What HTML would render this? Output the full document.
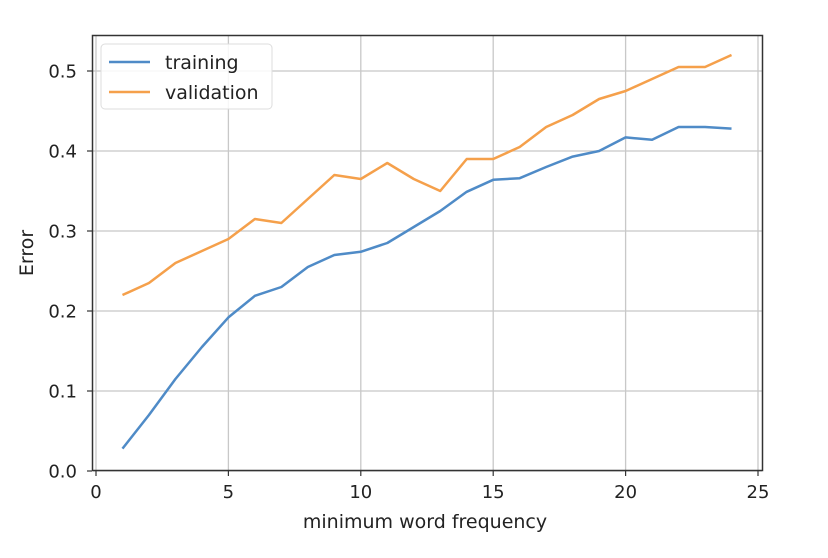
<!DOCTYPE html>
<html><head><meta charset="utf-8"><style>
body{margin:0;background:#fff;}
svg{display:block;font-family:"DejaVu Sans","Liberation Sans",sans-serif;}
</style></head><body>
<svg id="chart" width="828" height="558">
<g id="grid"></g>
<g id="ticks"></g>
<g id="lines"></g>
<rect x="92.5" y="35.5" width="670" height="435" fill="none" stroke="#333" stroke-width="1.5"/>
<text x="425" y="528" font-size="19" text-anchor="middle" fill="#222">minimum word frequency</text>
<text x="0" y="0" font-size="19" text-anchor="middle" fill="#222" transform="translate(33,253) rotate(-90)">Error</text>
<g>
<rect x="101" y="44" width="171" height="65" rx="4" fill="#fff" fill-opacity="0.85" stroke="#ddd"/>
<line x1="109" y1="62" x2="150" y2="62" stroke="#4f8bc7" stroke-width="2.5"/>
<text x="165" y="69" font-size="19" fill="#222">training</text>
<line x1="109" y1="92" x2="150" y2="92" stroke="#f5a04b" stroke-width="2.5"/>
<text x="165" y="99" font-size="19" fill="#222">validation</text>
</g>
</svg>
<script>
const xs=[1,2,3,4,5,6,7,8,9,10,11,12,13,14,15,16,17,18,19,20,21,22,23,24];
const training=[0.028,0.07,0.115,0.155,0.192,0.219,0.23,0.255,0.27,0.274,0.285,0.305,0.325,0.349,0.364,0.366,0.38,0.393,0.4,0.417,0.414,0.43,0.43,0.428];
const validation=[0.22,0.235,0.26,0.275,0.29,0.315,0.31,0.34,0.37,0.365,0.385,0.365,0.35,0.39,0.39,0.405,0.43,0.445,0.465,0.475,0.49,0.505,0.505,0.52];
const xTicks=[0,5,10,15,20,25];
const yTicks=[0.0,0.1,0.2,0.3,0.4,0.5];
const NS="http://www.w3.org/2000/svg";
function X(v){return 96+v*(758-96)/25;}
function Y(v){return 471-v*800;}
function mk(t,a,p){const e=document.createElementNS(NS,t);for(const k in a)e.setAttribute(k,a[k]);p.appendChild(e);return e;}
const g=document.getElementById('grid'),tk=document.getElementById('ticks'),ln=document.getElementById('lines');
xTicks.forEach(v=>{
 const l=mk('line',{x1:X(v),x2:X(v),y1:35,y2:470,stroke:'#c8c8c8','stroke-width':1.3},g);
 
 
 const t=mk('line',{x1:X(v),x2:X(v),y1:471,y2:476,stroke:'#333','stroke-width':1.2},tk);
 
 
 const s=mk('text',{x:X(v),y:498,'font-size':18,'text-anchor':'middle',fill:'#222'},tk);
 s.textContent=String(v);
 
 
});
yTicks.forEach(v=>{
 const l=mk('line',{x1:93,x2:762,y1:Y(v),y2:Y(v),stroke:'#c8c8c8','stroke-width':1.3},g);
 
 
 const t=mk('line',{x1:87,x2:92,y1:Y(v),y2:Y(v),stroke:'#333','stroke-width':1.2},tk);
 
 
 const s=mk('text',{x:77,y:Y(v)+6.5,'font-size':18,'text-anchor':'end',fill:'#222'},tk);
 s.textContent=v.toFixed(1);
 
 
});
function line(arr,color,name){
 const p=mk('polyline',{points:arr.map((v,i)=>X(xs[i])+','+Y(v)).join(' '),fill:'none',stroke:color,'stroke-width':2.5,'stroke-linejoin':'round'},ln);
 
 
}
line(training,'#4f8bc7','training-line');
line(validation,'#f5a04b','validation-line');
</script>
</body></html>
